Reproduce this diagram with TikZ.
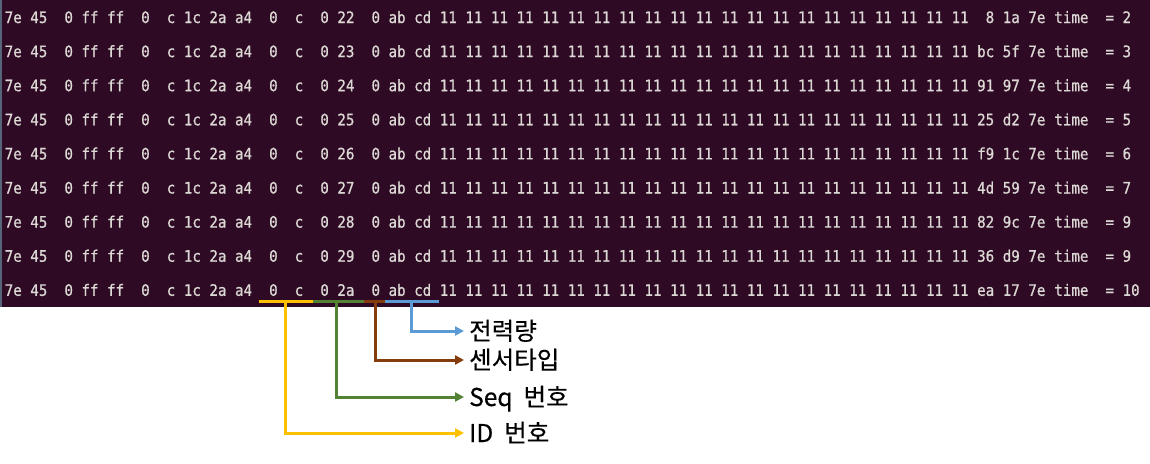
\documentclass[tikz,border=0pt]{standalone}
\usepackage{fontspec}
\usetikzlibrary{arrows.meta}
\newfontfamily\termfont[FakeStretch=0.9,FakeBold=0.8]{DejaVu Sans Mono}
\newfontfamily\krfont[FakeBold=0.4]{Noto Sans CJK KR}
\definecolor{termbg}{HTML}{2E0A24}
\definecolor{termfg}{HTML}{DCD8D4}
\definecolor{edgebar}{HTML}{56657A}
\definecolor{cyel}{HTML}{FFC000}
\definecolor{cgrn}{HTML}{548235}
\definecolor{cbrn}{HTML}{843C0C}
\definecolor{cblu}{HTML}{5B9BD5}
\tikzset{
  termtxt/.style={inner sep=0pt, text=termfg, font=\termfont\fontsize{15.75}{18}\selectfont},
  lbl/.style={inner sep=0pt, anchor=base west, text=black, font=\krfont\fontsize{24.5}{28}\selectfont},
  barline/.style={line width=3pt},
  conn/.style={line width=3pt, -{Triangle[length=9pt,width=9pt]}}
}
\begin{document}
\begin{tikzpicture}[x=1pt,y=-1pt]
\useasboundingbox (0,0) rectangle (1150,463);
\fill[termbg] (0,0) rectangle (1150,307);
\fill[edgebar] (0,0) rectangle (2,307);
% terminal rows
\foreach \sq/\ca/\cb/\tv [count=\i from 0] in {22/8/1a/2, 23/bc/5f/3, 24/91/97/4, 25/25/d2/5, 26/f9/1c/6, 27/4d/59/7, 28/82/9c/9, 29/36/d9/9, 2a/ea/17/10}{
  \pgfmathsetmacro\yb{23+34.1*\i}
  \foreach \fld [count=\k from 0] in {7e,45,0,ff,ff,0,c,1c,2a,a4,0,c,0,\sq,0,ab,cd,11,11,11,11,11,11,11,11,11,11,11,11,11,11,11,11,11,11,11,11,11,\ca,\cb,7e}{
    \node[termtxt, anchor=base east] (f\i-\k) at ({-3.6+(3*\k+3)*8.53},\yb) {\fld};
  }
  \node[termtxt, anchor=base west] (tm\i) at ({-3.6+124*8.53},\yb) {time};
  \node[termtxt, anchor=base west] (eq\i) at ({-3.6+130*8.53},\yb) {=};
  \node[termtxt, anchor=base west] (v\i) at ({-3.6+132*8.53},\yb) {\tv};
}
% bar segments under the last row
\coordinate (yA) at (259,301.5);
\coordinate (yB) at (313,301.5);
\coordinate (gB) at (364,301.5);
\coordinate (bB) at (385,301.5);
\coordinate (lB) at (439,301.5);
\draw[barline, cyel] (yA) -- (yB);
\draw[barline, cgrn] (yB) -- (gB);
\draw[barline, cbrn] (gB) -- (bB);
\draw[barline, cblu] (bB) -- (lB);
% drop points
\coordinate (yS) at (285,301.5);
\coordinate (gS) at (336,301.5);
\coordinate (bS) at (375,301.5);
\coordinate (lS) at (411,301.5);
% arrow tips
\coordinate (tipP) at (464,331);
\coordinate (tipT) at (464,360);
\coordinate (tipS) at (464,397);
\coordinate (tipI) at (464,433);
% labels
\node[lbl] (lblP) at (469,340) {전력량};
\node[lbl] (lblT) at (469,369) {센서타입};
\node[lbl] (lblS) at (469,406) {Seq\hspace{0.45em}번호};
\node[lbl] (lblI) at (469,442) {ID\hspace{0.45em}번호};
% connectors
\draw[conn, cblu] (lS) |- (tipP);
\draw[conn, cbrn] (bS) |- (tipT);
\draw[conn, cgrn] (gS) |- (tipS);
\draw[conn, cyel] (yS) |- (tipI);
\end{tikzpicture}
\end{document}
